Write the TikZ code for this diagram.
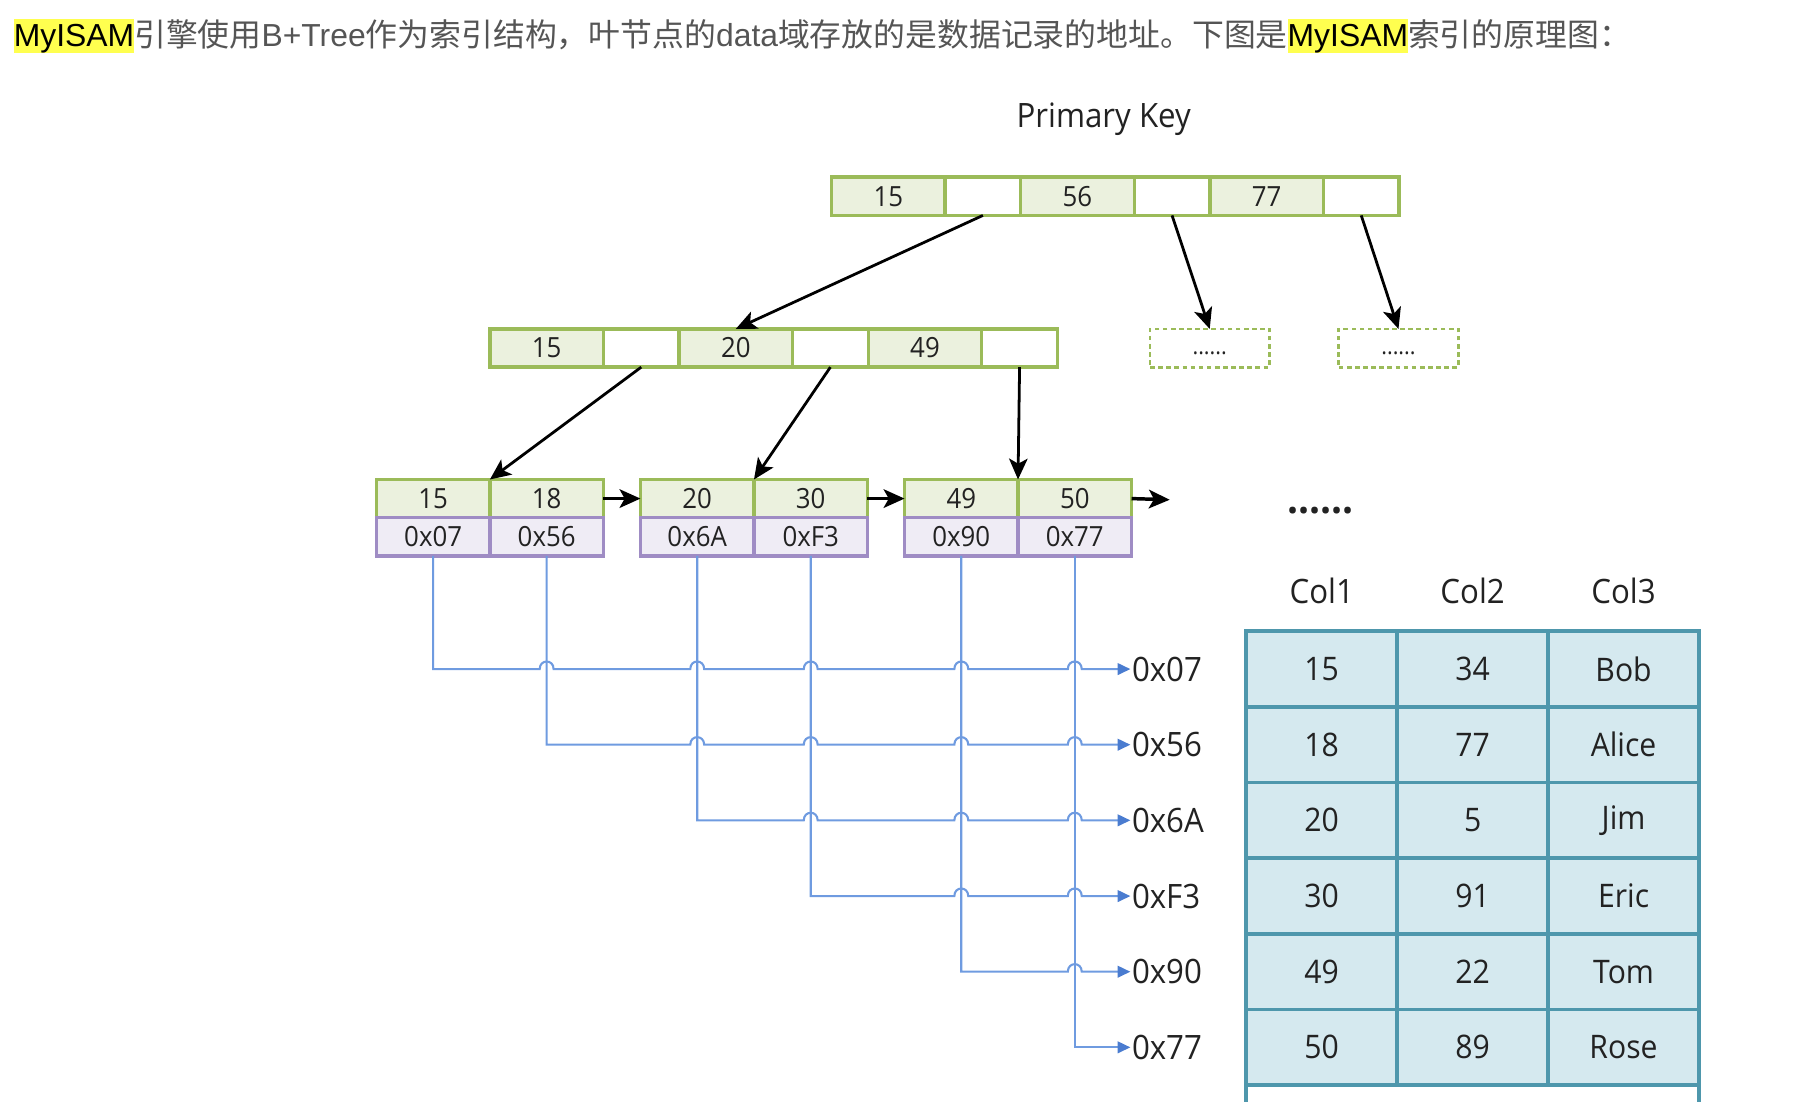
\documentclass[tikz,border=0pt]{standalone}
\usepackage{fontspec}
\usetikzlibrary{arrows.meta,calc}
\newfontfamily\cjkf{Noto Sans CJK SC}
\newfontfamily\latf{Liberation Sans}
\newfontfamily\dgf[FakeStretch=0.93]{Open Sans}
\definecolor{grnB}{HTML}{9BBB59}
\definecolor{grnF}{HTML}{EBF1DE}
\definecolor{purB}{HTML}{9F8CC4}
\definecolor{purF}{HTML}{EFECF5}
\definecolor{tblB}{HTML}{4E97AC}
\definecolor{tblF}{HTML}{D5E9EF}
\definecolor{bluL}{HTML}{6F9BE0}
\definecolor{bluA}{HTML}{4A7CD0}
\definecolor{hlY}{HTML}{FFFF4F}
\definecolor{ttl}{HTML}{555555}
\definecolor{txt}{HTML}{222222}
\begin{document}
\begin{tikzpicture}[x=0.5pt,y=-0.5pt,
  ttlfont/.style={font=\fontsize{13.75pt}{16pt}\selectfont},
  tseg/.style={anchor=base west, inner sep=0pt, outer sep=0pt, text=ttl},
  hl/.style={tseg, fill=hlY, text=black, text height=12pt, text depth=3pt},
  cell/.style={draw=grnB, line width=1.5pt, inner sep=0pt, outer sep=0pt,
    minimum height=16.5pt, anchor=north west, text=txt,
    font=\dgf\fontsize{12pt}{14pt}\selectfont},
  keyc/.style={cell, fill=grnF, minimum width=49pt},
  ptrc/.style={cell, fill=white, minimum width=32.67pt},
  addrc/.style={cell, draw=purB, fill=purF, minimum width=49pt},
  dashbox/.style={draw=grnB, dashed, dash pattern=on 2pt off 1.5pt, line width=1.2pt,
    minimum width=51.5pt, minimum height=16.5pt, anchor=north west, inner sep=0pt, outer sep=0pt,
    text=txt, font=\dgf\fontsize{10pt}{10pt}\selectfont},
  tcell/.style={draw=tblB, line width=1.5pt, fill=tblF, minimum width=65.17pt,
    minimum height=32.67pt, anchor=north west, inner sep=0pt, outer sep=0pt, text=txt,
    font=\dgf\fontsize{14pt}{16pt}\selectfont},
  big/.style={text=txt, font=\dgf\fontsize{14.5pt}{16pt}\selectfont, inner sep=0pt},
  adr/.style={big, anchor=west, inner sep=0.5pt},
  arr/.style={-{Stealth[length=9pt,width=8pt,inset=2.2pt]}, line width=1.2pt, draw=black},
  harr/.style={-{Stealth[length=9pt,width=8pt,inset=2.2pt]}, line width=1.5pt, draw=black},
  bl/.style={draw=bluL, line width=0.9pt, -{Triangle[length=5.5pt,width=5pt,color=bluA]}}
]
\clip (0,0) rectangle (1568,951.4);

% ---------- title ----------
\begin{scope}[ttlfont]
\node[hl] (m1) at (12,40) {\latf MyISAM};
\node[tseg] (t1) at (m1.base east) {\cjkf 引擎使用};
\node[tseg] (t2) at (t1.base east) {\latf B+Tree};
\node[tseg] (t3) at (t2.base east) {\cjkf 作为索引结构，叶节点的};
\node[tseg] (t4) at (t3.base east) {\latf data};
\node[tseg] (t5) at (t4.base east) {\cjkf 域存放的是数据记录的地址。下图是};
\node[hl] (m2) at (t5.base east) {\latf MyISAM};
\node[tseg] (t6) at (m2.base east) {\cjkf 索引的原理图：};
\end{scope}

\node[big, anchor=base] (pk) at (953,110) {Primary Key};

% ---------- root ----------
\node[keyc] (r1) at (718,153) {15};
\node[ptrc] (r2) at (816,153) {};
\node[keyc] (r3) at (881.33,153) {56};
\node[ptrc] (r4) at (979.33,153) {};
\node[keyc] (r5) at (1044.67,153) {77};
\node[ptrc] (r6) at (1142.67,153) {};

% ---------- level 2 ----------
\node[keyc] (s1) at (423,284) {15};
\node[ptrc] (s2) at (521,284) {};
\node[keyc] (s3) at (586.33,284) {20};
\node[ptrc] (s4) at (684.33,284) {};
\node[keyc] (s5) at (749.67,284) {49};
\node[ptrc] (s6) at (847.67,284) {};

\node[dashbox] (d1) at (993,284) {\smash{\raisebox{-2.75pt}{......}}};
\node[dashbox] (d2) at (1156,284) {\smash{\raisebox{-2.75pt}{......}}};

% ---------- leaves ----------
\node[keyc] (k1) at (325,414) {15};
\node[keyc] (k2) at (423,414) {18};
\node[keyc] (k3) at (553,414) {20};
\node[keyc] (k4) at (651,414) {30};
\node[keyc] (k5) at (781,414) {49};
\node[keyc] (k6) at (879,414) {50};
\node[addrc] (p1) at (325,447) {0x07};
\node[addrc] (p2) at (423,447) {0x56};
\node[addrc] (p3) at (553,447) {0x6A};
\node[addrc] (p4) at (651,447) {0xF3};
\node[addrc] (p5) at (781,447) {0x90};
\node[addrc] (p6) at (879,447) {0x77};

% ---------- tree arrows ----------
\draw[arr] (r2.south) -- (s3.north);
\draw[arr] (r4.south) -- (d1.north);
\draw[arr] (r6.south) -- (d2.north);
\draw[arr] (s2.south) -- (k1.north east);
\draw[arr] (s4.south) -- (k3.north east);
\draw[arr] (s6.south) -- (k5.north east);
\coordinate (nx) at (1010,431.5);
\draw[harr] (k2.east) -- (k3.west);
\draw[harr] (k4.east) -- (k5.west);
\draw[harr] (k6.east) -- (nx);

\node[text=txt, font=\dgf\bfseries\fontsize{18pt}{18pt}\selectfont, anchor=base, inner sep=0pt] (more) at (1140,443) {......};

% ---------- table ----------
\node[big] (c1) at (1141.2,510) {Col1};
\node[big] (c2) at (1271.5,510) {Col2};
\node[big] (c3) at (1401.8,510) {Col3};

\foreach \va/\vb/\vc [count=\i from 0] in {15/34/Bob,18/77/Alice,20/5/Jim,30/91/Eric,49/22/Tom,50/89/Rose}{
  \node[tcell] (ta\i) at (1076,545+65.33*\i) {\va};
  \node[tcell] (tb\i) at (1206.33,545+65.33*\i) {\vb};
  \node[tcell] (tc\i) at (1336.67,545+65.33*\i) {\vc};
}
\node[tcell, fill=white, minimum width=195.5pt] (tmore) at (1076,937) {};

% ---------- address labels ----------
\node[adr] (a1) at (976,577.7) {0x07};
\node[adr] (a2) at (976,643) {0x56};
\node[adr] (a3) at (976,708.3) {0x6A};
\node[adr] (a4) at (976,773.7) {0xF3};
\node[adr] (a5) at (976,839) {0x90};
\node[adr] (a6) at (976,904.3) {0x77};

% ---------- pointer lines with hops ----------
\draw[bl] (p1.south) -- (p1.south |- a1.west)
  \foreach \h in {472,602,700,830,928}{ -- (\h-6,577.7) .. controls (\h-6,569) and (\h+6,569) .. (\h+6,577.7) }
  -- (a1.west);
\draw[bl] (p2.south) -- (p2.south |- a2.west)
  \foreach \h in {602,700,830,928}{ -- (\h-6,643) .. controls (\h-6,634.3) and (\h+6,634.3) .. (\h+6,643) }
  -- (a2.west);
\draw[bl] (p3.south) -- (p3.south |- a3.west)
  \foreach \h in {700,830,928}{ -- (\h-6,708.3) .. controls (\h-6,699.6) and (\h+6,699.6) .. (\h+6,708.3) }
  -- (a3.west);
\draw[bl] (p4.south) -- (p4.south |- a4.west)
  \foreach \h in {830,928}{ -- (\h-6,773.7) .. controls (\h-6,765) and (\h+6,765) .. (\h+6,773.7) }
  -- (a4.west);
\draw[bl] (p5.south) -- (p5.south |- a5.west)
  \foreach \h in {928}{ -- (\h-6,839) .. controls (\h-6,830.3) and (\h+6,830.3) .. (\h+6,839) }
  -- (a5.west);
\draw[bl] (p6.south) -- (p6.south |- a6.west) -- (a6.west);
\end{tikzpicture}
\end{document}
